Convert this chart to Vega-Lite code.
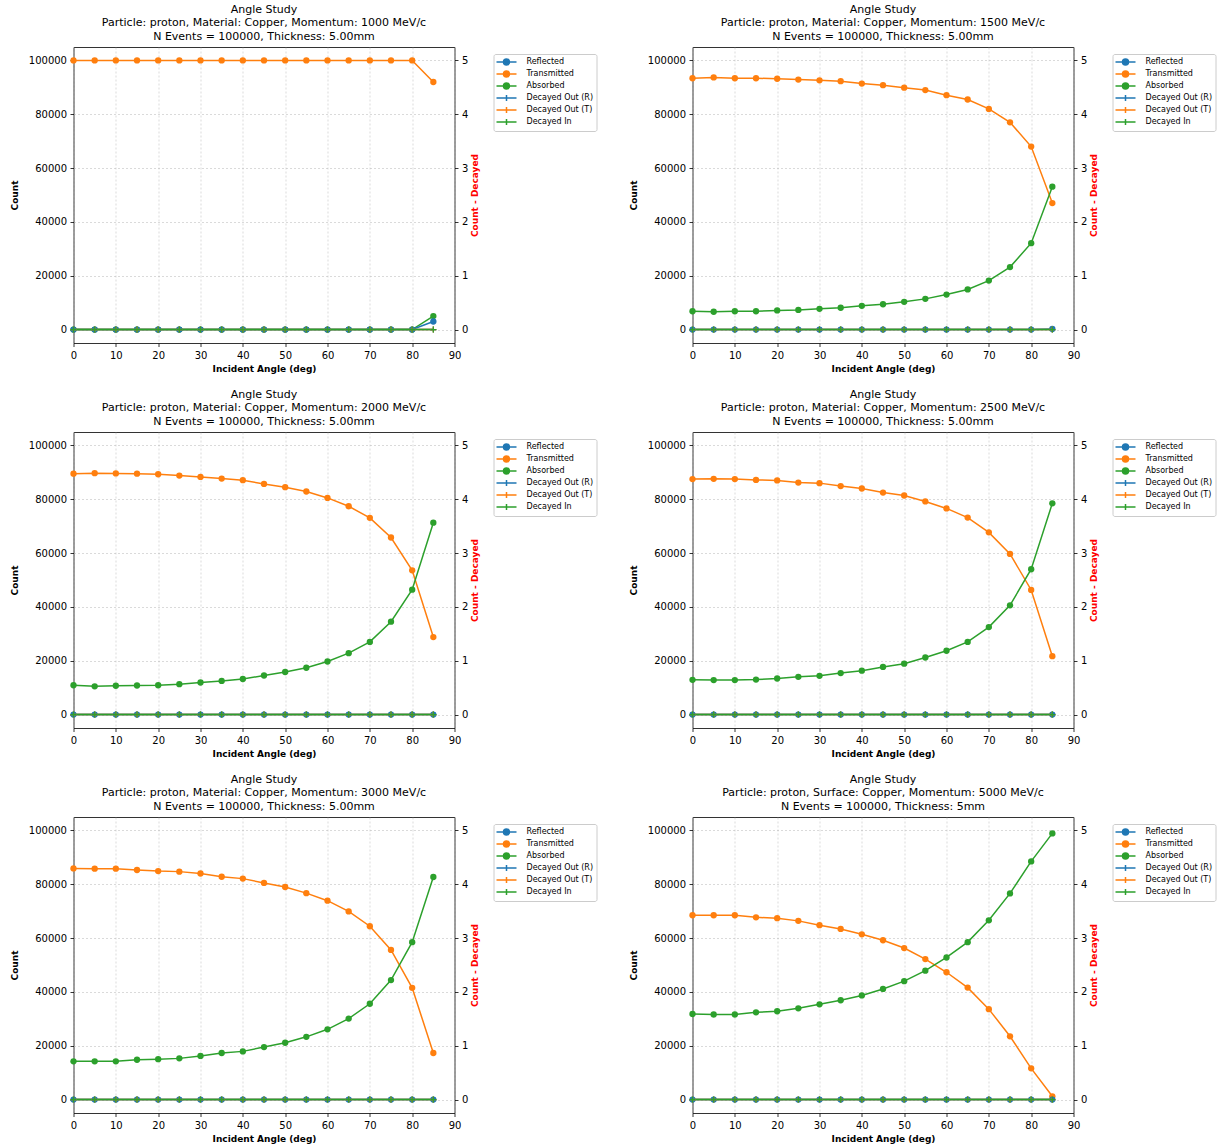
{
  "$schema": "https://vega.github.io/schema/vega-lite/v6.json",
  "padding": {"left": 9.5, "top": 3, "right": 5, "bottom": 5},
  "columns": 2,
  "spacing": {"row": 14, "column": 31},
  "datasets": {
    "runs": [
      {"m":1000,"a":0,"Reflected":0,"Transmitted":100000,"Absorbed":0,"Decayed Out (R)":0,"Decayed Out (T)":0,"Decayed In":0},
      {"m":1000,"a":5,"Reflected":0,"Transmitted":100000,"Absorbed":0,"Decayed Out (R)":0,"Decayed Out (T)":0,"Decayed In":0},
      {"m":1000,"a":10,"Reflected":0,"Transmitted":100000,"Absorbed":0,"Decayed Out (R)":0,"Decayed Out (T)":0,"Decayed In":0},
      {"m":1000,"a":15,"Reflected":0,"Transmitted":100000,"Absorbed":0,"Decayed Out (R)":0,"Decayed Out (T)":0,"Decayed In":0},
      {"m":1000,"a":20,"Reflected":0,"Transmitted":100000,"Absorbed":0,"Decayed Out (R)":0,"Decayed Out (T)":0,"Decayed In":0},
      {"m":1000,"a":25,"Reflected":0,"Transmitted":100000,"Absorbed":0,"Decayed Out (R)":0,"Decayed Out (T)":0,"Decayed In":0},
      {"m":1000,"a":30,"Reflected":0,"Transmitted":100000,"Absorbed":0,"Decayed Out (R)":0,"Decayed Out (T)":0,"Decayed In":0},
      {"m":1000,"a":35,"Reflected":0,"Transmitted":100000,"Absorbed":0,"Decayed Out (R)":0,"Decayed Out (T)":0,"Decayed In":0},
      {"m":1000,"a":40,"Reflected":0,"Transmitted":100000,"Absorbed":0,"Decayed Out (R)":0,"Decayed Out (T)":0,"Decayed In":0},
      {"m":1000,"a":45,"Reflected":0,"Transmitted":100000,"Absorbed":0,"Decayed Out (R)":0,"Decayed Out (T)":0,"Decayed In":0},
      {"m":1000,"a":50,"Reflected":0,"Transmitted":100000,"Absorbed":0,"Decayed Out (R)":0,"Decayed Out (T)":0,"Decayed In":0},
      {"m":1000,"a":55,"Reflected":0,"Transmitted":100000,"Absorbed":0,"Decayed Out (R)":0,"Decayed Out (T)":0,"Decayed In":0},
      {"m":1000,"a":60,"Reflected":0,"Transmitted":100000,"Absorbed":0,"Decayed Out (R)":0,"Decayed Out (T)":0,"Decayed In":0},
      {"m":1000,"a":65,"Reflected":0,"Transmitted":100000,"Absorbed":0,"Decayed Out (R)":0,"Decayed Out (T)":0,"Decayed In":0},
      {"m":1000,"a":70,"Reflected":0,"Transmitted":100000,"Absorbed":0,"Decayed Out (R)":0,"Decayed Out (T)":0,"Decayed In":0},
      {"m":1000,"a":75,"Reflected":0,"Transmitted":100000,"Absorbed":0,"Decayed Out (R)":0,"Decayed Out (T)":0,"Decayed In":0},
      {"m":1000,"a":80,"Reflected":0,"Transmitted":100000,"Absorbed":0,"Decayed Out (R)":0,"Decayed Out (T)":0,"Decayed In":0},
      {"m":1000,"a":85,"Reflected":3000,"Transmitted":92000,"Absorbed":5000,"Decayed Out (R)":0,"Decayed Out (T)":0,"Decayed In":0},

      {"m":1500,"a":0,"Reflected":0,"Transmitted":93400,"Absorbed":6800,"Decayed Out (R)":0,"Decayed Out (T)":0,"Decayed In":0},
      {"m":1500,"a":5,"Reflected":0,"Transmitted":93700,"Absorbed":6600,"Decayed Out (R)":0,"Decayed Out (T)":0,"Decayed In":0},
      {"m":1500,"a":10,"Reflected":0,"Transmitted":93400,"Absorbed":6800,"Decayed Out (R)":0,"Decayed Out (T)":0,"Decayed In":0},
      {"m":1500,"a":15,"Reflected":0,"Transmitted":93400,"Absorbed":6800,"Decayed Out (R)":0,"Decayed Out (T)":0,"Decayed In":0},
      {"m":1500,"a":20,"Reflected":0,"Transmitted":93200,"Absorbed":7100,"Decayed Out (R)":0,"Decayed Out (T)":0,"Decayed In":0},
      {"m":1500,"a":25,"Reflected":0,"Transmitted":92900,"Absorbed":7300,"Decayed Out (R)":0,"Decayed Out (T)":0,"Decayed In":0},
      {"m":1500,"a":30,"Reflected":0,"Transmitted":92600,"Absorbed":7700,"Decayed Out (R)":0,"Decayed Out (T)":0,"Decayed In":0},
      {"m":1500,"a":35,"Reflected":0,"Transmitted":92300,"Absorbed":8100,"Decayed Out (R)":0,"Decayed Out (T)":0,"Decayed In":0},
      {"m":1500,"a":40,"Reflected":0,"Transmitted":91400,"Absorbed":8800,"Decayed Out (R)":0,"Decayed Out (T)":0,"Decayed In":0},
      {"m":1500,"a":45,"Reflected":0,"Transmitted":90800,"Absorbed":9400,"Decayed Out (R)":0,"Decayed Out (T)":0,"Decayed In":0},
      {"m":1500,"a":50,"Reflected":0,"Transmitted":89900,"Absorbed":10300,"Decayed Out (R)":0,"Decayed Out (T)":0,"Decayed In":0},
      {"m":1500,"a":55,"Reflected":0,"Transmitted":89000,"Absorbed":11400,"Decayed Out (R)":0,"Decayed Out (T)":0,"Decayed In":0},
      {"m":1500,"a":60,"Reflected":0,"Transmitted":87100,"Absorbed":13000,"Decayed Out (R)":0,"Decayed Out (T)":0,"Decayed In":0},
      {"m":1500,"a":65,"Reflected":0,"Transmitted":85500,"Absorbed":14900,"Decayed Out (R)":0,"Decayed Out (T)":0,"Decayed In":0},
      {"m":1500,"a":70,"Reflected":0,"Transmitted":82000,"Absorbed":18200,"Decayed Out (R)":0,"Decayed Out (T)":0,"Decayed In":0},
      {"m":1500,"a":75,"Reflected":0,"Transmitted":77000,"Absorbed":23200,"Decayed Out (R)":0,"Decayed Out (T)":0,"Decayed In":0},
      {"m":1500,"a":80,"Reflected":0,"Transmitted":68000,"Absorbed":32100,"Decayed Out (R)":0,"Decayed Out (T)":0,"Decayed In":0},
      {"m":1500,"a":85,"Reflected":200,"Transmitted":47000,"Absorbed":53100,"Decayed Out (R)":0,"Decayed Out (T)":0,"Decayed In":0},

      {"m":2000,"a":0,"Reflected":0,"Transmitted":89500,"Absorbed":10900,"Decayed Out (R)":0,"Decayed Out (T)":0,"Decayed In":0},
      {"m":2000,"a":5,"Reflected":0,"Transmitted":89700,"Absorbed":10500,"Decayed Out (R)":0,"Decayed Out (T)":0,"Decayed In":0},
      {"m":2000,"a":10,"Reflected":0,"Transmitted":89600,"Absorbed":10700,"Decayed Out (R)":0,"Decayed Out (T)":0,"Decayed In":0},
      {"m":2000,"a":15,"Reflected":0,"Transmitted":89500,"Absorbed":10800,"Decayed Out (R)":0,"Decayed Out (T)":0,"Decayed In":0},
      {"m":2000,"a":20,"Reflected":0,"Transmitted":89300,"Absorbed":10900,"Decayed Out (R)":0,"Decayed Out (T)":0,"Decayed In":0},
      {"m":2000,"a":25,"Reflected":0,"Transmitted":88800,"Absorbed":11300,"Decayed Out (R)":0,"Decayed Out (T)":0,"Decayed In":0},
      {"m":2000,"a":30,"Reflected":0,"Transmitted":88300,"Absorbed":11900,"Decayed Out (R)":0,"Decayed Out (T)":0,"Decayed In":0},
      {"m":2000,"a":35,"Reflected":0,"Transmitted":87700,"Absorbed":12500,"Decayed Out (R)":0,"Decayed Out (T)":0,"Decayed In":0},
      {"m":2000,"a":40,"Reflected":0,"Transmitted":87100,"Absorbed":13200,"Decayed Out (R)":0,"Decayed Out (T)":0,"Decayed In":0},
      {"m":2000,"a":45,"Reflected":0,"Transmitted":85700,"Absorbed":14500,"Decayed Out (R)":0,"Decayed Out (T)":0,"Decayed In":0},
      {"m":2000,"a":50,"Reflected":0,"Transmitted":84500,"Absorbed":15800,"Decayed Out (R)":0,"Decayed Out (T)":0,"Decayed In":0},
      {"m":2000,"a":55,"Reflected":0,"Transmitted":82900,"Absorbed":17400,"Decayed Out (R)":0,"Decayed Out (T)":0,"Decayed In":0},
      {"m":2000,"a":60,"Reflected":0,"Transmitted":80500,"Absorbed":19700,"Decayed Out (R)":0,"Decayed Out (T)":0,"Decayed In":0},
      {"m":2000,"a":65,"Reflected":0,"Transmitted":77400,"Absorbed":22800,"Decayed Out (R)":0,"Decayed Out (T)":0,"Decayed In":0},
      {"m":2000,"a":70,"Reflected":0,"Transmitted":73100,"Absorbed":27000,"Decayed Out (R)":0,"Decayed Out (T)":0,"Decayed In":0},
      {"m":2000,"a":75,"Reflected":0,"Transmitted":65800,"Absorbed":34500,"Decayed Out (R)":0,"Decayed Out (T)":0,"Decayed In":0},
      {"m":2000,"a":80,"Reflected":0,"Transmitted":53600,"Absorbed":46400,"Decayed Out (R)":0,"Decayed Out (T)":0,"Decayed In":0},
      {"m":2000,"a":85,"Reflected":0,"Transmitted":28800,"Absorbed":71300,"Decayed Out (R)":0,"Decayed Out (T)":0,"Decayed In":0},

      {"m":2500,"a":0,"Reflected":0,"Transmitted":87500,"Absorbed":12900,"Decayed Out (R)":0,"Decayed Out (T)":0,"Decayed In":0},
      {"m":2500,"a":5,"Reflected":0,"Transmitted":87600,"Absorbed":12800,"Decayed Out (R)":0,"Decayed Out (T)":0,"Decayed In":0},
      {"m":2500,"a":10,"Reflected":0,"Transmitted":87500,"Absorbed":12800,"Decayed Out (R)":0,"Decayed Out (T)":0,"Decayed In":0},
      {"m":2500,"a":15,"Reflected":0,"Transmitted":87200,"Absorbed":13000,"Decayed Out (R)":0,"Decayed Out (T)":0,"Decayed In":0},
      {"m":2500,"a":20,"Reflected":0,"Transmitted":87000,"Absorbed":13400,"Decayed Out (R)":0,"Decayed Out (T)":0,"Decayed In":0},
      {"m":2500,"a":25,"Reflected":0,"Transmitted":86200,"Absorbed":14000,"Decayed Out (R)":0,"Decayed Out (T)":0,"Decayed In":0},
      {"m":2500,"a":30,"Reflected":0,"Transmitted":86000,"Absorbed":14400,"Decayed Out (R)":0,"Decayed Out (T)":0,"Decayed In":0},
      {"m":2500,"a":35,"Reflected":0,"Transmitted":84900,"Absorbed":15400,"Decayed Out (R)":0,"Decayed Out (T)":0,"Decayed In":0},
      {"m":2500,"a":40,"Reflected":0,"Transmitted":84000,"Absorbed":16300,"Decayed Out (R)":0,"Decayed Out (T)":0,"Decayed In":0},
      {"m":2500,"a":45,"Reflected":0,"Transmitted":82500,"Absorbed":17700,"Decayed Out (R)":0,"Decayed Out (T)":0,"Decayed In":0},
      {"m":2500,"a":50,"Reflected":0,"Transmitted":81400,"Absorbed":18900,"Decayed Out (R)":0,"Decayed Out (T)":0,"Decayed In":0},
      {"m":2500,"a":55,"Reflected":0,"Transmitted":79200,"Absorbed":21200,"Decayed Out (R)":0,"Decayed Out (T)":0,"Decayed In":0},
      {"m":2500,"a":60,"Reflected":0,"Transmitted":76600,"Absorbed":23700,"Decayed Out (R)":0,"Decayed Out (T)":0,"Decayed In":0},
      {"m":2500,"a":65,"Reflected":0,"Transmitted":73200,"Absorbed":27000,"Decayed Out (R)":0,"Decayed Out (T)":0,"Decayed In":0},
      {"m":2500,"a":70,"Reflected":0,"Transmitted":67700,"Absorbed":32500,"Decayed Out (R)":0,"Decayed Out (T)":0,"Decayed In":0},
      {"m":2500,"a":75,"Reflected":0,"Transmitted":59700,"Absorbed":40600,"Decayed Out (R)":0,"Decayed Out (T)":0,"Decayed In":0},
      {"m":2500,"a":80,"Reflected":0,"Transmitted":46300,"Absorbed":54000,"Decayed Out (R)":0,"Decayed Out (T)":0,"Decayed In":0},
      {"m":2500,"a":85,"Reflected":0,"Transmitted":21700,"Absorbed":78500,"Decayed Out (R)":0,"Decayed Out (T)":0,"Decayed In":0},

      {"m":3000,"a":0,"Reflected":0,"Transmitted":85900,"Absorbed":14200,"Decayed Out (R)":0,"Decayed Out (T)":0,"Decayed In":0},
      {"m":3000,"a":5,"Reflected":0,"Transmitted":85800,"Absorbed":14200,"Decayed Out (R)":0,"Decayed Out (T)":0,"Decayed In":0},
      {"m":3000,"a":10,"Reflected":0,"Transmitted":85800,"Absorbed":14200,"Decayed Out (R)":0,"Decayed Out (T)":0,"Decayed In":0},
      {"m":3000,"a":15,"Reflected":0,"Transmitted":85300,"Absorbed":14800,"Decayed Out (R)":0,"Decayed Out (T)":0,"Decayed In":0},
      {"m":3000,"a":20,"Reflected":0,"Transmitted":84900,"Absorbed":15000,"Decayed Out (R)":0,"Decayed Out (T)":0,"Decayed In":0},
      {"m":3000,"a":25,"Reflected":0,"Transmitted":84700,"Absorbed":15300,"Decayed Out (R)":0,"Decayed Out (T)":0,"Decayed In":0},
      {"m":3000,"a":30,"Reflected":0,"Transmitted":84000,"Absorbed":16200,"Decayed Out (R)":0,"Decayed Out (T)":0,"Decayed In":0},
      {"m":3000,"a":35,"Reflected":0,"Transmitted":82800,"Absorbed":17300,"Decayed Out (R)":0,"Decayed Out (T)":0,"Decayed In":0},
      {"m":3000,"a":40,"Reflected":0,"Transmitted":82100,"Absorbed":17900,"Decayed Out (R)":0,"Decayed Out (T)":0,"Decayed In":0},
      {"m":3000,"a":45,"Reflected":0,"Transmitted":80500,"Absorbed":19500,"Decayed Out (R)":0,"Decayed Out (T)":0,"Decayed In":0},
      {"m":3000,"a":50,"Reflected":0,"Transmitted":79000,"Absorbed":21100,"Decayed Out (R)":0,"Decayed Out (T)":0,"Decayed In":0},
      {"m":3000,"a":55,"Reflected":0,"Transmitted":76700,"Absorbed":23300,"Decayed Out (R)":0,"Decayed Out (T)":0,"Decayed In":0},
      {"m":3000,"a":60,"Reflected":0,"Transmitted":73900,"Absorbed":26100,"Decayed Out (R)":0,"Decayed Out (T)":0,"Decayed In":0},
      {"m":3000,"a":65,"Reflected":0,"Transmitted":69900,"Absorbed":30100,"Decayed Out (R)":0,"Decayed Out (T)":0,"Decayed In":0},
      {"m":3000,"a":70,"Reflected":0,"Transmitted":64400,"Absorbed":35600,"Decayed Out (R)":0,"Decayed Out (T)":0,"Decayed In":0},
      {"m":3000,"a":75,"Reflected":0,"Transmitted":55600,"Absorbed":44400,"Decayed Out (R)":0,"Decayed Out (T)":0,"Decayed In":0},
      {"m":3000,"a":80,"Reflected":0,"Transmitted":41500,"Absorbed":58500,"Decayed Out (R)":0,"Decayed Out (T)":0,"Decayed In":0},
      {"m":3000,"a":85,"Reflected":0,"Transmitted":17300,"Absorbed":82700,"Decayed Out (R)":0,"Decayed Out (T)":0,"Decayed In":0},

      {"m":5000,"a":0,"Reflected":0,"Transmitted":68500,"Absorbed":31800,"Decayed Out (R)":0,"Decayed Out (T)":0,"Decayed In":0},
      {"m":5000,"a":5,"Reflected":0,"Transmitted":68500,"Absorbed":31600,"Decayed Out (R)":0,"Decayed Out (T)":0,"Decayed In":0},
      {"m":5000,"a":10,"Reflected":0,"Transmitted":68500,"Absorbed":31600,"Decayed Out (R)":0,"Decayed Out (T)":0,"Decayed In":0},
      {"m":5000,"a":15,"Reflected":0,"Transmitted":67700,"Absorbed":32400,"Decayed Out (R)":0,"Decayed Out (T)":0,"Decayed In":0},
      {"m":5000,"a":20,"Reflected":0,"Transmitted":67400,"Absorbed":32800,"Decayed Out (R)":0,"Decayed Out (T)":0,"Decayed In":0},
      {"m":5000,"a":25,"Reflected":0,"Transmitted":66400,"Absorbed":33900,"Decayed Out (R)":0,"Decayed Out (T)":0,"Decayed In":0},
      {"m":5000,"a":30,"Reflected":0,"Transmitted":64800,"Absorbed":35400,"Decayed Out (R)":0,"Decayed Out (T)":0,"Decayed In":0},
      {"m":5000,"a":35,"Reflected":0,"Transmitted":63400,"Absorbed":36900,"Decayed Out (R)":0,"Decayed Out (T)":0,"Decayed In":0},
      {"m":5000,"a":40,"Reflected":0,"Transmitted":61400,"Absorbed":38700,"Decayed Out (R)":0,"Decayed Out (T)":0,"Decayed In":0},
      {"m":5000,"a":45,"Reflected":0,"Transmitted":59200,"Absorbed":41100,"Decayed Out (R)":0,"Decayed Out (T)":0,"Decayed In":0},
      {"m":5000,"a":50,"Reflected":0,"Transmitted":56300,"Absorbed":44000,"Decayed Out (R)":0,"Decayed Out (T)":0,"Decayed In":0},
      {"m":5000,"a":55,"Reflected":0,"Transmitted":52200,"Absorbed":47900,"Decayed Out (R)":0,"Decayed Out (T)":0,"Decayed In":0},
      {"m":5000,"a":60,"Reflected":0,"Transmitted":47300,"Absorbed":52800,"Decayed Out (R)":0,"Decayed Out (T)":0,"Decayed In":0},
      {"m":5000,"a":65,"Reflected":0,"Transmitted":41600,"Absorbed":58500,"Decayed Out (R)":0,"Decayed Out (T)":0,"Decayed In":0},
      {"m":5000,"a":70,"Reflected":0,"Transmitted":33600,"Absorbed":66600,"Decayed Out (R)":0,"Decayed Out (T)":0,"Decayed In":0},
      {"m":5000,"a":75,"Reflected":0,"Transmitted":23500,"Absorbed":76600,"Decayed Out (R)":0,"Decayed Out (T)":0,"Decayed In":0},
      {"m":5000,"a":80,"Reflected":0,"Transmitted":11600,"Absorbed":88500,"Decayed Out (R)":0,"Decayed Out (T)":0,"Decayed In":0},
      {"m":5000,"a":85,"Reflected":0,"Transmitted":1200,"Absorbed":98900,"Decayed Out (R)":0,"Decayed Out (T)":0,"Decayed In":0}
    ]
  },
  "concat": [
    {
      "width": 381, "height": 296,
      "title": {"text": ["Angle Study", "Particle: proton, Material: Copper, Momentum: 1000 MeV/c", "N Events = 100000, Thickness: 5.00mm"]},
      "data": {"name": "runs"},
      "transform": [{"filter": "datum.m == 1000"}],
      "layer": [
        {
          "transform": [{"fold": ["Transmitted", "Absorbed", "Reflected"], "as": ["series", "count"]}],
          "mark": {"type": "line", "strokeWidth": 1.5, "point": {"filled": true, "size": 40, "opacity": 1}},
          "encoding": {
            "x": {"field": "a", "type": "quantitative", "scale": {"domain": [0, 90], "nice": false}, "axis": {"title": "Incident Angle (deg)", "values": [0, 10, 20, 30, 40, 50, 60, 70, 80, 90]}},
            "y": {"field": "count", "type": "quantitative", "scale": {"domain": [-5000, 105000], "nice": false, "zero": false}, "axis": {"title": "Count", "orient": "left", "format": "d", "values": [0, 20000, 40000, 60000, 80000, 100000], "titlePadding": 8.5}},
            "color": {"field": "series", "type": "nominal", "scale": {"domain": ["Reflected", "Transmitted", "Absorbed", "Decayed Out (R)", "Decayed Out (T)", "Decayed In"], "range": ["#1f77b4", "#ff7f0e", "#2ca02c", "#1f77b4", "#ff7f0e", "#2ca02c"]},
              "legend": {"encode": {"symbols": {"update": {
                "shape": {"signal": "indexof(['Reflected','Transmitted','Absorbed'], datum.value) >= 0 ? 'M-2.5,0L2.5,0M-0.75,0A0.75,0.75,0,1,1,0.75,0A0.75,0.75,0,1,1,-0.75,0Z' : 'M-2.5,0L2.5,0M0,-0.75L0,0.75'"},
                "fill": {"signal": "datum.value == 'Reflected' ? '#1f77b4' : datum.value == 'Transmitted' ? '#ff7f0e' : datum.value == 'Absorbed' ? '#2ca02c' : 'transparent'"},
                "stroke": {"signal": "(datum.value == 'Reflected' || datum.value == 'Decayed Out (R)') ? '#1f77b4' : (datum.value == 'Transmitted' || datum.value == 'Decayed Out (T)') ? '#ff7f0e' : '#2ca02c'"},
                "strokeWidth": {"value": 1.5}, "size": {"value": 64}, "opacity": {"value": 1}}}}}}
          }
        },
        {
          "transform": [{"fold": ["Decayed Out (R)", "Decayed Out (T)", "Decayed In"], "as": ["series", "count"]}],
          "mark": {"type": "line", "strokeWidth": 1.5, "point": {"filled": false, "shape": "M-1,0L1,0M0,-1L0,1", "size": 36, "strokeWidth": 1.2, "opacity": 1}},
          "encoding": {
            "x": {"field": "a", "type": "quantitative", "scale": {"domain": [0, 90], "nice": false}, "axis": {"title": "Incident Angle (deg)", "values": [0, 10, 20, 30, 40, 50, 60, 70, 80, 90]}},
            "y": {"field": "count", "type": "quantitative", "scale": {"domain": [-0.25, 5.25], "nice": false, "zero": false}, "axis": {"title": "Count - Decayed", "orient": "right", "values": [0, 1, 2, 3, 4, 5], "grid": false, "titleColor": "#ff0000", "titleAngle": 270, "titleBaseline": "top", "titlePadding": 3}},
            "color": {"field": "series", "type": "nominal", "scale": {"domain": ["Reflected", "Transmitted", "Absorbed", "Decayed Out (R)", "Decayed Out (T)", "Decayed In"], "range": ["#1f77b4", "#ff7f0e", "#2ca02c", "#1f77b4", "#ff7f0e", "#2ca02c"]},
              "legend": {"encode": {"symbols": {"update": {
                "shape": {"signal": "indexof(['Reflected','Transmitted','Absorbed'], datum.value) >= 0 ? 'M-2.5,0L2.5,0M-0.75,0A0.75,0.75,0,1,1,0.75,0A0.75,0.75,0,1,1,-0.75,0Z' : 'M-2.5,0L2.5,0M0,-0.75L0,0.75'"},
                "fill": {"signal": "datum.value == 'Reflected' ? '#1f77b4' : datum.value == 'Transmitted' ? '#ff7f0e' : datum.value == 'Absorbed' ? '#2ca02c' : 'transparent'"},
                "stroke": {"signal": "(datum.value == 'Reflected' || datum.value == 'Decayed Out (R)') ? '#1f77b4' : (datum.value == 'Transmitted' || datum.value == 'Decayed Out (T)') ? '#ff7f0e' : '#2ca02c'"},
                "strokeWidth": {"value": 1.5}, "size": {"value": 64}, "opacity": {"value": 1}}}}}}
          }
        }
      ],
      "resolve": {"scale": {"y": "independent"}, "axis": {"y": "independent"}}
    },
    {
      "width": 381, "height": 296,
      "title": {"text": ["Angle Study", "Particle: proton, Material: Copper, Momentum: 1500 MeV/c", "N Events = 100000, Thickness: 5.00mm"]},
      "data": {"name": "runs"},
      "transform": [{"filter": "datum.m == 1500"}],
      "layer": [
        {
          "transform": [{"fold": ["Transmitted", "Absorbed", "Reflected"], "as": ["series", "count"]}],
          "mark": {"type": "line", "strokeWidth": 1.5, "point": {"filled": true, "size": 40, "opacity": 1}},
          "encoding": {
            "x": {"field": "a", "type": "quantitative", "scale": {"domain": [0, 90], "nice": false}, "axis": {"title": "Incident Angle (deg)", "values": [0, 10, 20, 30, 40, 50, 60, 70, 80, 90]}},
            "y": {"field": "count", "type": "quantitative", "scale": {"domain": [-5000, 105000], "nice": false, "zero": false}, "axis": {"title": "Count", "orient": "left", "format": "d", "values": [0, 20000, 40000, 60000, 80000, 100000], "titlePadding": 8.5}},
            "color": {"field": "series", "type": "nominal", "scale": {"domain": ["Reflected", "Transmitted", "Absorbed", "Decayed Out (R)", "Decayed Out (T)", "Decayed In"], "range": ["#1f77b4", "#ff7f0e", "#2ca02c", "#1f77b4", "#ff7f0e", "#2ca02c"]},
              "legend": {"encode": {"symbols": {"update": {
                "shape": {"signal": "indexof(['Reflected','Transmitted','Absorbed'], datum.value) >= 0 ? 'M-2.5,0L2.5,0M-0.75,0A0.75,0.75,0,1,1,0.75,0A0.75,0.75,0,1,1,-0.75,0Z' : 'M-2.5,0L2.5,0M0,-0.75L0,0.75'"},
                "fill": {"signal": "datum.value == 'Reflected' ? '#1f77b4' : datum.value == 'Transmitted' ? '#ff7f0e' : datum.value == 'Absorbed' ? '#2ca02c' : 'transparent'"},
                "stroke": {"signal": "(datum.value == 'Reflected' || datum.value == 'Decayed Out (R)') ? '#1f77b4' : (datum.value == 'Transmitted' || datum.value == 'Decayed Out (T)') ? '#ff7f0e' : '#2ca02c'"},
                "strokeWidth": {"value": 1.5}, "size": {"value": 64}, "opacity": {"value": 1}}}}}}
          }
        },
        {
          "transform": [{"fold": ["Decayed Out (R)", "Decayed Out (T)", "Decayed In"], "as": ["series", "count"]}],
          "mark": {"type": "line", "strokeWidth": 1.5, "point": {"filled": false, "shape": "M-1,0L1,0M0,-1L0,1", "size": 36, "strokeWidth": 1.2, "opacity": 1}},
          "encoding": {
            "x": {"field": "a", "type": "quantitative", "scale": {"domain": [0, 90], "nice": false}, "axis": {"title": "Incident Angle (deg)", "values": [0, 10, 20, 30, 40, 50, 60, 70, 80, 90]}},
            "y": {"field": "count", "type": "quantitative", "scale": {"domain": [-0.25, 5.25], "nice": false, "zero": false}, "axis": {"title": "Count - Decayed", "orient": "right", "values": [0, 1, 2, 3, 4, 5], "grid": false, "titleColor": "#ff0000", "titleAngle": 270, "titleBaseline": "top", "titlePadding": 3}},
            "color": {"field": "series", "type": "nominal", "scale": {"domain": ["Reflected", "Transmitted", "Absorbed", "Decayed Out (R)", "Decayed Out (T)", "Decayed In"], "range": ["#1f77b4", "#ff7f0e", "#2ca02c", "#1f77b4", "#ff7f0e", "#2ca02c"]},
              "legend": {"encode": {"symbols": {"update": {
                "shape": {"signal": "indexof(['Reflected','Transmitted','Absorbed'], datum.value) >= 0 ? 'M-2.5,0L2.5,0M-0.75,0A0.75,0.75,0,1,1,0.75,0A0.75,0.75,0,1,1,-0.75,0Z' : 'M-2.5,0L2.5,0M0,-0.75L0,0.75'"},
                "fill": {"signal": "datum.value == 'Reflected' ? '#1f77b4' : datum.value == 'Transmitted' ? '#ff7f0e' : datum.value == 'Absorbed' ? '#2ca02c' : 'transparent'"},
                "stroke": {"signal": "(datum.value == 'Reflected' || datum.value == 'Decayed Out (R)') ? '#1f77b4' : (datum.value == 'Transmitted' || datum.value == 'Decayed Out (T)') ? '#ff7f0e' : '#2ca02c'"},
                "strokeWidth": {"value": 1.5}, "size": {"value": 64}, "opacity": {"value": 1}}}}}}
          }
        }
      ],
      "resolve": {"scale": {"y": "independent"}, "axis": {"y": "independent"}}
    },
    {
      "width": 381, "height": 296,
      "title": {"text": ["Angle Study", "Particle: proton, Material: Copper, Momentum: 2000 MeV/c", "N Events = 100000, Thickness: 5.00mm"]},
      "data": {"name": "runs"},
      "transform": [{"filter": "datum.m == 2000"}],
      "layer": [
        {
          "transform": [{"fold": ["Transmitted", "Absorbed", "Reflected"], "as": ["series", "count"]}],
          "mark": {"type": "line", "strokeWidth": 1.5, "point": {"filled": true, "size": 40, "opacity": 1}},
          "encoding": {
            "x": {"field": "a", "type": "quantitative", "scale": {"domain": [0, 90], "nice": false}, "axis": {"title": "Incident Angle (deg)", "values": [0, 10, 20, 30, 40, 50, 60, 70, 80, 90]}},
            "y": {"field": "count", "type": "quantitative", "scale": {"domain": [-5000, 105000], "nice": false, "zero": false}, "axis": {"title": "Count", "orient": "left", "format": "d", "values": [0, 20000, 40000, 60000, 80000, 100000], "titlePadding": 8.5}},
            "color": {"field": "series", "type": "nominal", "scale": {"domain": ["Reflected", "Transmitted", "Absorbed", "Decayed Out (R)", "Decayed Out (T)", "Decayed In"], "range": ["#1f77b4", "#ff7f0e", "#2ca02c", "#1f77b4", "#ff7f0e", "#2ca02c"]},
              "legend": {"encode": {"symbols": {"update": {
                "shape": {"signal": "indexof(['Reflected','Transmitted','Absorbed'], datum.value) >= 0 ? 'M-2.5,0L2.5,0M-0.75,0A0.75,0.75,0,1,1,0.75,0A0.75,0.75,0,1,1,-0.75,0Z' : 'M-2.5,0L2.5,0M0,-0.75L0,0.75'"},
                "fill": {"signal": "datum.value == 'Reflected' ? '#1f77b4' : datum.value == 'Transmitted' ? '#ff7f0e' : datum.value == 'Absorbed' ? '#2ca02c' : 'transparent'"},
                "stroke": {"signal": "(datum.value == 'Reflected' || datum.value == 'Decayed Out (R)') ? '#1f77b4' : (datum.value == 'Transmitted' || datum.value == 'Decayed Out (T)') ? '#ff7f0e' : '#2ca02c'"},
                "strokeWidth": {"value": 1.5}, "size": {"value": 64}, "opacity": {"value": 1}}}}}}
          }
        },
        {
          "transform": [{"fold": ["Decayed Out (R)", "Decayed Out (T)", "Decayed In"], "as": ["series", "count"]}],
          "mark": {"type": "line", "strokeWidth": 1.5, "point": {"filled": false, "shape": "M-1,0L1,0M0,-1L0,1", "size": 36, "strokeWidth": 1.2, "opacity": 1}},
          "encoding": {
            "x": {"field": "a", "type": "quantitative", "scale": {"domain": [0, 90], "nice": false}, "axis": {"title": "Incident Angle (deg)", "values": [0, 10, 20, 30, 40, 50, 60, 70, 80, 90]}},
            "y": {"field": "count", "type": "quantitative", "scale": {"domain": [-0.25, 5.25], "nice": false, "zero": false}, "axis": {"title": "Count - Decayed", "orient": "right", "values": [0, 1, 2, 3, 4, 5], "grid": false, "titleColor": "#ff0000", "titleAngle": 270, "titleBaseline": "top", "titlePadding": 3}},
            "color": {"field": "series", "type": "nominal", "scale": {"domain": ["Reflected", "Transmitted", "Absorbed", "Decayed Out (R)", "Decayed Out (T)", "Decayed In"], "range": ["#1f77b4", "#ff7f0e", "#2ca02c", "#1f77b4", "#ff7f0e", "#2ca02c"]},
              "legend": {"encode": {"symbols": {"update": {
                "shape": {"signal": "indexof(['Reflected','Transmitted','Absorbed'], datum.value) >= 0 ? 'M-2.5,0L2.5,0M-0.75,0A0.75,0.75,0,1,1,0.75,0A0.75,0.75,0,1,1,-0.75,0Z' : 'M-2.5,0L2.5,0M0,-0.75L0,0.75'"},
                "fill": {"signal": "datum.value == 'Reflected' ? '#1f77b4' : datum.value == 'Transmitted' ? '#ff7f0e' : datum.value == 'Absorbed' ? '#2ca02c' : 'transparent'"},
                "stroke": {"signal": "(datum.value == 'Reflected' || datum.value == 'Decayed Out (R)') ? '#1f77b4' : (datum.value == 'Transmitted' || datum.value == 'Decayed Out (T)') ? '#ff7f0e' : '#2ca02c'"},
                "strokeWidth": {"value": 1.5}, "size": {"value": 64}, "opacity": {"value": 1}}}}}}
          }
        }
      ],
      "resolve": {"scale": {"y": "independent"}, "axis": {"y": "independent"}}
    },
    {
      "width": 381, "height": 296,
      "title": {"text": ["Angle Study", "Particle: proton, Material: Copper, Momentum: 2500 MeV/c", "N Events = 100000, Thickness: 5.00mm"]},
      "data": {"name": "runs"},
      "transform": [{"filter": "datum.m == 2500"}],
      "layer": [
        {
          "transform": [{"fold": ["Transmitted", "Absorbed", "Reflected"], "as": ["series", "count"]}],
          "mark": {"type": "line", "strokeWidth": 1.5, "point": {"filled": true, "size": 40, "opacity": 1}},
          "encoding": {
            "x": {"field": "a", "type": "quantitative", "scale": {"domain": [0, 90], "nice": false}, "axis": {"title": "Incident Angle (deg)", "values": [0, 10, 20, 30, 40, 50, 60, 70, 80, 90]}},
            "y": {"field": "count", "type": "quantitative", "scale": {"domain": [-5000, 105000], "nice": false, "zero": false}, "axis": {"title": "Count", "orient": "left", "format": "d", "values": [0, 20000, 40000, 60000, 80000, 100000], "titlePadding": 8.5}},
            "color": {"field": "series", "type": "nominal", "scale": {"domain": ["Reflected", "Transmitted", "Absorbed", "Decayed Out (R)", "Decayed Out (T)", "Decayed In"], "range": ["#1f77b4", "#ff7f0e", "#2ca02c", "#1f77b4", "#ff7f0e", "#2ca02c"]},
              "legend": {"encode": {"symbols": {"update": {
                "shape": {"signal": "indexof(['Reflected','Transmitted','Absorbed'], datum.value) >= 0 ? 'M-2.5,0L2.5,0M-0.75,0A0.75,0.75,0,1,1,0.75,0A0.75,0.75,0,1,1,-0.75,0Z' : 'M-2.5,0L2.5,0M0,-0.75L0,0.75'"},
                "fill": {"signal": "datum.value == 'Reflected' ? '#1f77b4' : datum.value == 'Transmitted' ? '#ff7f0e' : datum.value == 'Absorbed' ? '#2ca02c' : 'transparent'"},
                "stroke": {"signal": "(datum.value == 'Reflected' || datum.value == 'Decayed Out (R)') ? '#1f77b4' : (datum.value == 'Transmitted' || datum.value == 'Decayed Out (T)') ? '#ff7f0e' : '#2ca02c'"},
                "strokeWidth": {"value": 1.5}, "size": {"value": 64}, "opacity": {"value": 1}}}}}}
          }
        },
        {
          "transform": [{"fold": ["Decayed Out (R)", "Decayed Out (T)", "Decayed In"], "as": ["series", "count"]}],
          "mark": {"type": "line", "strokeWidth": 1.5, "point": {"filled": false, "shape": "M-1,0L1,0M0,-1L0,1", "size": 36, "strokeWidth": 1.2, "opacity": 1}},
          "encoding": {
            "x": {"field": "a", "type": "quantitative", "scale": {"domain": [0, 90], "nice": false}, "axis": {"title": "Incident Angle (deg)", "values": [0, 10, 20, 30, 40, 50, 60, 70, 80, 90]}},
            "y": {"field": "count", "type": "quantitative", "scale": {"domain": [-0.25, 5.25], "nice": false, "zero": false}, "axis": {"title": "Count - Decayed", "orient": "right", "values": [0, 1, 2, 3, 4, 5], "grid": false, "titleColor": "#ff0000", "titleAngle": 270, "titleBaseline": "top", "titlePadding": 3}},
            "color": {"field": "series", "type": "nominal", "scale": {"domain": ["Reflected", "Transmitted", "Absorbed", "Decayed Out (R)", "Decayed Out (T)", "Decayed In"], "range": ["#1f77b4", "#ff7f0e", "#2ca02c", "#1f77b4", "#ff7f0e", "#2ca02c"]},
              "legend": {"encode": {"symbols": {"update": {
                "shape": {"signal": "indexof(['Reflected','Transmitted','Absorbed'], datum.value) >= 0 ? 'M-2.5,0L2.5,0M-0.75,0A0.75,0.75,0,1,1,0.75,0A0.75,0.75,0,1,1,-0.75,0Z' : 'M-2.5,0L2.5,0M0,-0.75L0,0.75'"},
                "fill": {"signal": "datum.value == 'Reflected' ? '#1f77b4' : datum.value == 'Transmitted' ? '#ff7f0e' : datum.value == 'Absorbed' ? '#2ca02c' : 'transparent'"},
                "stroke": {"signal": "(datum.value == 'Reflected' || datum.value == 'Decayed Out (R)') ? '#1f77b4' : (datum.value == 'Transmitted' || datum.value == 'Decayed Out (T)') ? '#ff7f0e' : '#2ca02c'"},
                "strokeWidth": {"value": 1.5}, "size": {"value": 64}, "opacity": {"value": 1}}}}}}
          }
        }
      ],
      "resolve": {"scale": {"y": "independent"}, "axis": {"y": "independent"}}
    },
    {
      "width": 381, "height": 296,
      "title": {"text": ["Angle Study", "Particle: proton, Material: Copper, Momentum: 3000 MeV/c", "N Events = 100000, Thickness: 5.00mm"]},
      "data": {"name": "runs"},
      "transform": [{"filter": "datum.m == 3000"}],
      "layer": [
        {
          "transform": [{"fold": ["Transmitted", "Absorbed", "Reflected"], "as": ["series", "count"]}],
          "mark": {"type": "line", "strokeWidth": 1.5, "point": {"filled": true, "size": 40, "opacity": 1}},
          "encoding": {
            "x": {"field": "a", "type": "quantitative", "scale": {"domain": [0, 90], "nice": false}, "axis": {"title": "Incident Angle (deg)", "values": [0, 10, 20, 30, 40, 50, 60, 70, 80, 90]}},
            "y": {"field": "count", "type": "quantitative", "scale": {"domain": [-5000, 105000], "nice": false, "zero": false}, "axis": {"title": "Count", "orient": "left", "format": "d", "values": [0, 20000, 40000, 60000, 80000, 100000], "titlePadding": 8.5}},
            "color": {"field": "series", "type": "nominal", "scale": {"domain": ["Reflected", "Transmitted", "Absorbed", "Decayed Out (R)", "Decayed Out (T)", "Decayed In"], "range": ["#1f77b4", "#ff7f0e", "#2ca02c", "#1f77b4", "#ff7f0e", "#2ca02c"]},
              "legend": {"encode": {"symbols": {"update": {
                "shape": {"signal": "indexof(['Reflected','Transmitted','Absorbed'], datum.value) >= 0 ? 'M-2.5,0L2.5,0M-0.75,0A0.75,0.75,0,1,1,0.75,0A0.75,0.75,0,1,1,-0.75,0Z' : 'M-2.5,0L2.5,0M0,-0.75L0,0.75'"},
                "fill": {"signal": "datum.value == 'Reflected' ? '#1f77b4' : datum.value == 'Transmitted' ? '#ff7f0e' : datum.value == 'Absorbed' ? '#2ca02c' : 'transparent'"},
                "stroke": {"signal": "(datum.value == 'Reflected' || datum.value == 'Decayed Out (R)') ? '#1f77b4' : (datum.value == 'Transmitted' || datum.value == 'Decayed Out (T)') ? '#ff7f0e' : '#2ca02c'"},
                "strokeWidth": {"value": 1.5}, "size": {"value": 64}, "opacity": {"value": 1}}}}}}
          }
        },
        {
          "transform": [{"fold": ["Decayed Out (R)", "Decayed Out (T)", "Decayed In"], "as": ["series", "count"]}],
          "mark": {"type": "line", "strokeWidth": 1.5, "point": {"filled": false, "shape": "M-1,0L1,0M0,-1L0,1", "size": 36, "strokeWidth": 1.2, "opacity": 1}},
          "encoding": {
            "x": {"field": "a", "type": "quantitative", "scale": {"domain": [0, 90], "nice": false}, "axis": {"title": "Incident Angle (deg)", "values": [0, 10, 20, 30, 40, 50, 60, 70, 80, 90]}},
            "y": {"field": "count", "type": "quantitative", "scale": {"domain": [-0.25, 5.25], "nice": false, "zero": false}, "axis": {"title": "Count - Decayed", "orient": "right", "values": [0, 1, 2, 3, 4, 5], "grid": false, "titleColor": "#ff0000", "titleAngle": 270, "titleBaseline": "top", "titlePadding": 3}},
            "color": {"field": "series", "type": "nominal", "scale": {"domain": ["Reflected", "Transmitted", "Absorbed", "Decayed Out (R)", "Decayed Out (T)", "Decayed In"], "range": ["#1f77b4", "#ff7f0e", "#2ca02c", "#1f77b4", "#ff7f0e", "#2ca02c"]},
              "legend": {"encode": {"symbols": {"update": {
                "shape": {"signal": "indexof(['Reflected','Transmitted','Absorbed'], datum.value) >= 0 ? 'M-2.5,0L2.5,0M-0.75,0A0.75,0.75,0,1,1,0.75,0A0.75,0.75,0,1,1,-0.75,0Z' : 'M-2.5,0L2.5,0M0,-0.75L0,0.75'"},
                "fill": {"signal": "datum.value == 'Reflected' ? '#1f77b4' : datum.value == 'Transmitted' ? '#ff7f0e' : datum.value == 'Absorbed' ? '#2ca02c' : 'transparent'"},
                "stroke": {"signal": "(datum.value == 'Reflected' || datum.value == 'Decayed Out (R)') ? '#1f77b4' : (datum.value == 'Transmitted' || datum.value == 'Decayed Out (T)') ? '#ff7f0e' : '#2ca02c'"},
                "strokeWidth": {"value": 1.5}, "size": {"value": 64}, "opacity": {"value": 1}}}}}}
          }
        }
      ],
      "resolve": {"scale": {"y": "independent"}, "axis": {"y": "independent"}}
    },
    {
      "width": 381, "height": 296,
      "title": {"text": ["Angle Study", "Particle: proton, Surface: Copper, Momentum: 5000 MeV/c", "N Events = 100000, Thickness: 5mm"]},
      "data": {"name": "runs"},
      "transform": [{"filter": "datum.m == 5000"}],
      "layer": [
        {
          "transform": [{"fold": ["Transmitted", "Absorbed", "Reflected"], "as": ["series", "count"]}],
          "mark": {"type": "line", "strokeWidth": 1.5, "point": {"filled": true, "size": 40, "opacity": 1}},
          "encoding": {
            "x": {"field": "a", "type": "quantitative", "scale": {"domain": [0, 90], "nice": false}, "axis": {"title": "Incident Angle (deg)", "values": [0, 10, 20, 30, 40, 50, 60, 70, 80, 90]}},
            "y": {"field": "count", "type": "quantitative", "scale": {"domain": [-5000, 105000], "nice": false, "zero": false}, "axis": {"title": "Count", "orient": "left", "format": "d", "values": [0, 20000, 40000, 60000, 80000, 100000], "titlePadding": 8.5}},
            "color": {"field": "series", "type": "nominal", "scale": {"domain": ["Reflected", "Transmitted", "Absorbed", "Decayed Out (R)", "Decayed Out (T)", "Decayed In"], "range": ["#1f77b4", "#ff7f0e", "#2ca02c", "#1f77b4", "#ff7f0e", "#2ca02c"]},
              "legend": {"encode": {"symbols": {"update": {
                "shape": {"signal": "indexof(['Reflected','Transmitted','Absorbed'], datum.value) >= 0 ? 'M-2.5,0L2.5,0M-0.75,0A0.75,0.75,0,1,1,0.75,0A0.75,0.75,0,1,1,-0.75,0Z' : 'M-2.5,0L2.5,0M0,-0.75L0,0.75'"},
                "fill": {"signal": "datum.value == 'Reflected' ? '#1f77b4' : datum.value == 'Transmitted' ? '#ff7f0e' : datum.value == 'Absorbed' ? '#2ca02c' : 'transparent'"},
                "stroke": {"signal": "(datum.value == 'Reflected' || datum.value == 'Decayed Out (R)') ? '#1f77b4' : (datum.value == 'Transmitted' || datum.value == 'Decayed Out (T)') ? '#ff7f0e' : '#2ca02c'"},
                "strokeWidth": {"value": 1.5}, "size": {"value": 64}, "opacity": {"value": 1}}}}}}
          }
        },
        {
          "transform": [{"fold": ["Decayed Out (R)", "Decayed Out (T)", "Decayed In"], "as": ["series", "count"]}],
          "mark": {"type": "line", "strokeWidth": 1.5, "point": {"filled": false, "shape": "M-1,0L1,0M0,-1L0,1", "size": 36, "strokeWidth": 1.2, "opacity": 1}},
          "encoding": {
            "x": {"field": "a", "type": "quantitative", "scale": {"domain": [0, 90], "nice": false}, "axis": {"title": "Incident Angle (deg)", "values": [0, 10, 20, 30, 40, 50, 60, 70, 80, 90]}},
            "y": {"field": "count", "type": "quantitative", "scale": {"domain": [-0.25, 5.25], "nice": false, "zero": false}, "axis": {"title": "Count - Decayed", "orient": "right", "values": [0, 1, 2, 3, 4, 5], "grid": false, "titleColor": "#ff0000", "titleAngle": 270, "titleBaseline": "top", "titlePadding": 3}},
            "color": {"field": "series", "type": "nominal", "scale": {"domain": ["Reflected", "Transmitted", "Absorbed", "Decayed Out (R)", "Decayed Out (T)", "Decayed In"], "range": ["#1f77b4", "#ff7f0e", "#2ca02c", "#1f77b4", "#ff7f0e", "#2ca02c"]},
              "legend": {"encode": {"symbols": {"update": {
                "shape": {"signal": "indexof(['Reflected','Transmitted','Absorbed'], datum.value) >= 0 ? 'M-2.5,0L2.5,0M-0.75,0A0.75,0.75,0,1,1,0.75,0A0.75,0.75,0,1,1,-0.75,0Z' : 'M-2.5,0L2.5,0M0,-0.75L0,0.75'"},
                "fill": {"signal": "datum.value == 'Reflected' ? '#1f77b4' : datum.value == 'Transmitted' ? '#ff7f0e' : datum.value == 'Absorbed' ? '#2ca02c' : 'transparent'"},
                "stroke": {"signal": "(datum.value == 'Reflected' || datum.value == 'Decayed Out (R)') ? '#1f77b4' : (datum.value == 'Transmitted' || datum.value == 'Decayed Out (T)') ? '#ff7f0e' : '#2ca02c'"},
                "strokeWidth": {"value": 1.5}, "size": {"value": 64}, "opacity": {"value": 1}}}}}}
          }
        }
      ],
      "resolve": {"scale": {"y": "independent"}, "axis": {"y": "independent"}}
    }
  ],
  "resolve": {"scale": {"color": "independent"}, "legend": {"color": "independent"}},
  "config": {
    "font": "DejaVu Sans",
    "view": {"stroke": "#333333", "strokeWidth": 1},
    "axis": {
      "domain": false,
      "grid": true,
      "gridColor": "#b0b0b0",
      "gridDash": [2, 2],
      "gridWidth": 0.6,
      "gridOpacity": 0.8,
      "tickColor": "#000000",
      "tickSize": 3.5,
      "tickWidth": 0.8,
      "labelFontSize": 10,
      "labelColor": "#000000",
      "labelPadding": 3.5,
      "labelFlush": false,
      "labelOverlap": false,
      "titleFontSize": 9,
      "titleFontWeight": "bold",
      "titleColor": "#000000"
    },
    "axisX": {"titlePadding": 4},
    "title": {"fontSize": 11, "fontWeight": "normal", "lineHeight": 13.7, "offset": 5, "color": "#000000", "anchor": "middle", "frame": "group"},
    "legend": {
      "orient": "none",
      "legendX": 420,
      "legendY": 7,
      "title": null,
      "labelFontSize": 8,
      "labelColor": "#000000",
      "symbolSize": 64,
      "symbolStrokeWidth": 1.5,
      "symbolOffset": 5,
      "labelOffset": 15,
      "padding": 3,
      "rowPadding": 0,
      "fillColor": "#ffffff",
      "strokeColor": "#cccccc",
      "cornerRadius": 2,
      "symbolOpacity": 1
    },
    "point": {"opacity": 1}
  }
}
